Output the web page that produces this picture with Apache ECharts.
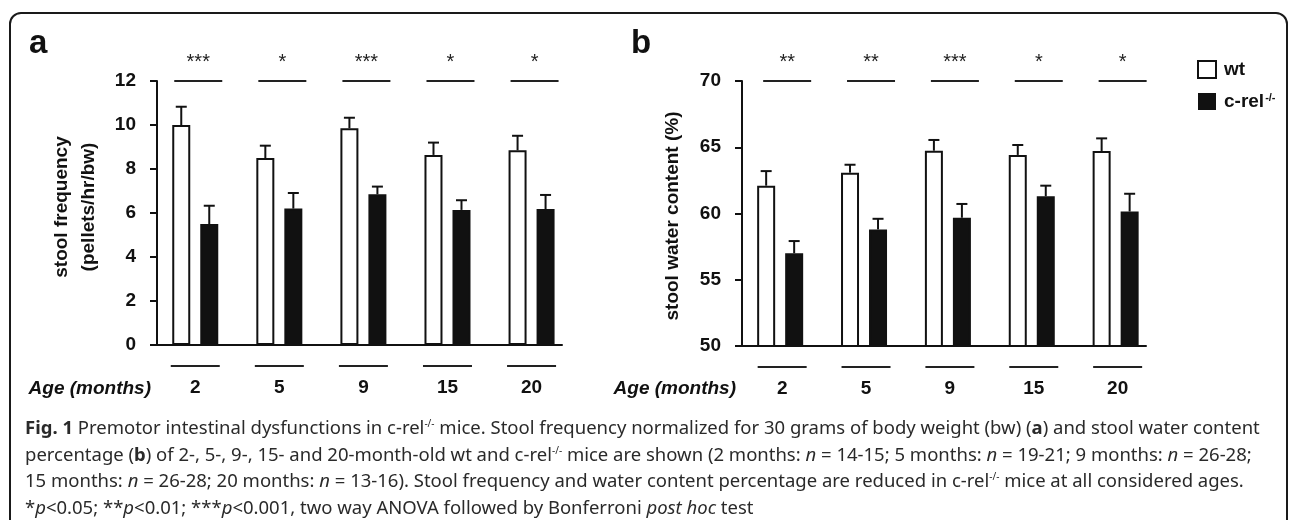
<!DOCTYPE html>
<html><head><meta charset="utf-8">
<script src="https://cdn.jsdelivr.net/npm/echarts@6/dist/echarts.min.js"></script>
<style>html,body{margin:0;padding:0;background:#fff;}#c{width:1290px;height:520px;}</style>
</head><body><div id="c"></div>
<script>
// ---- data ----
const ages = ['2', '5', '9', '15', '20'];
// panel a: stool frequency (pellets/hr/bw)
const freqWt = [10.0, 8.5, 9.85, 8.64, 8.85];
const freqWtUpper = [10.83, 9.06, 10.33, 9.2, 9.51];
const freqKo = [5.5, 6.2, 6.85, 6.14, 6.18];
const freqKoUpper = [6.33, 6.91, 7.2, 6.58, 6.82];
const freqStars = ['***', '*', '***', '*', '*'];
// panel b: stool water content (%)
const waterWt = [62.1, 63.08, 64.74, 64.42, 64.72];
const waterWtUpper = [63.2, 63.68, 65.55, 65.17, 65.67];
const waterKo = [57.0, 58.8, 59.68, 61.3, 60.15];
const waterKoUpper = [57.92, 59.6, 60.72, 62.1, 61.49];
const waterStars = ['**', '**', '***', '*', '*'];
// axis ranges
const freqAxis = {min: 0, max: 12, interval: 2};
const waterAxis = {min: 50, max: 70, interval: 5};
const seriesNames = ['wt', 'c-rel-/-'];
const captionLines = [
  '{b|Fig. 1}{r| Premotor intestinal dysfunctions in c-rel}{s|-/-}{r| mice. Stool frequency normalized for 30 grams of body weight (bw) (}{b|a}{r|) and stool water content}',
  '{r|percentage (}{b|b}{r|) of 2-, 5-, 9-, 15- and 20-month-old wt and c-rel}{s|-/-}{r| mice are shown (2 months: }{i|n}{r| = 14-15; 5 months: }{i|n}{r| = 19-21; 9 months: }{i|n}{r| = 26-28;}',
  '{r|15 months: }{i|n}{r| = 26-28; 20 months: }{i|n}{r| = 13-16). Stool frequency and water content percentage are reduced in c-rel}{s|-/-}{r| mice at all considered ages.}',
  '{r|*}{i|p}{r|<0.05; **}{i|p}{r|<0.01; ***}{i|p}{r|<0.001, two way ANOVA followed by Bonferroni }{i|post hoc}{r| test}'
];

// ---- styles ----
const FF = '"Liberation Sans", Arial, sans-serif';
const CF = '"Noto Sans", "Open Sans", sans-serif';
const CS = 18.5;
const INK = '#111';

const chart = echarts.init(document.getElementById('c'), null, {renderer: 'canvas'});

function yAxisCfg(gi, rng, name, gap, pad) {
  return {
    gridIndex: gi, type: 'value', min: rng.min, max: rng.max, interval: rng.interval,
    axisLine: {show: true, onZero: false, lineStyle: {color: INK, width: 2}},
    axisTick: {show: true, length: 7, lineStyle: {color: INK, width: 2}},
    axisLabel: {margin: 21, fontFamily: FF, fontWeight: 'bold', fontSize: 19, color: INK},
    splitLine: {show: false},
    name: name, nameLocation: 'middle', nameRotate: 90, nameGap: gap,
    nameTextStyle: {fontFamily: FF, fontWeight: 'bold', fontSize: 19, lineHeight: 27, color: INK, padding: pad}
  };
}
function xAxisCfg(gi) {
  return {
    gridIndex: gi, type: 'value', min: -0.455, max: 4.362,
    axisLine: {show: true, onZero: false, lineStyle: {color: INK, width: 2}},
    axisTick: {show: false}, axisLabel: {show: false}, splitLine: {show: false}
  };
}
function barSeries(gi, name, vals, fill) {
  return {
    type: 'bar', name: name, xAxisIndex: gi, yAxisIndex: gi,
    data: vals.map((v, i) => [i, v]),
    barWidth: 18, barGap: '55.6%',
    itemStyle: {color: fill, borderColor: INK, borderWidth: 2},
    emphasis: {disabled: true}, z: 2
  };
}
function errSeries(gi, means, uppers, dx) {
  return {
    type: 'custom', xAxisIndex: gi, yAxisIndex: gi, silent: true, clip: false, z: 3,
    data: means.map((m, i) => [i, m, uppers[i]]),
    encode: {x: 0, y: [1, 2]},
    renderItem(params, api) {
      const p1 = api.coord([api.value(0), api.value(1)]);
      const p2 = api.coord([api.value(0), api.value(2)]);
      const x = p1[0] + dx;
      return {type: 'group', children: [
        {type: 'line', shape: {x1: x, y1: p1[1], x2: x, y2: p2[1]}, style: {stroke: INK, lineWidth: 2}},
        {type: 'line', shape: {x1: x - 5.5, y1: p2[1], x2: x + 5.5, y2: p2[1]}, style: {stroke: INK, lineWidth: 2}}
      ]};
    }
  };
}
function annotSeries(gi, stars, rng, topDx, botDx) {
  return {
    type: 'custom', xAxisIndex: gi, yAxisIndex: gi, silent: true, clip: false, z: 3,
    data: ages.map((a, i) => [i, rng.max]),
    encode: {x: 0, y: 1},
    renderItem(params, api) {
      const i = api.value(0);
      const top = api.coord([i, rng.max]);
      const bot = api.coord([i, rng.min]);
      const cx = top[0];
      const k = params.dataIndex;
      return {type: 'group', children: [
        {type: 'line', shape: {x1: cx + topDx - 24, y1: top[1], x2: cx + topDx + 24, y2: top[1]}, style: {stroke: '#222', lineWidth: 2}},
        {type: 'text', style: {text: stars[k], x: cx + topDx, y: top[1] - 19, align: 'center', verticalAlign: 'middle', font: '20px ' + FF, fill: '#222'}},
        {type: 'line', shape: {x1: cx + botDx - 24.5, y1: bot[1] + 21, x2: cx + botDx + 24.5, y2: bot[1] + 21}, style: {stroke: '#222', lineWidth: 2}},
        {type: 'text', style: {text: ages[k], x: cx + botDx, y: bot[1] + 43, align: 'center', verticalAlign: 'middle', font: 'bold 19px ' + FF, fill: INK}}
      ]};
    }
  };
}

const graphics = [
  {type: 'rect', shape: {x: 10, y: 13, width: 1277, height: 600, r: 11}, style: {fill: 'none', stroke: '#1a1a1a', lineWidth: 2}, silent: true},
  {type: 'text', x: 29, y: 44, style: {text: 'a', font: 'bold 33px ' + FF, fill: INK, verticalAlign: 'middle'}},
  {type: 'text', x: 631, y: 44, style: {text: 'b', font: 'bold 33px ' + FF, fill: INK, verticalAlign: 'middle'}},
  {type: 'text', x: 151, y: 389, style: {text: 'Age (months)', font: 'italic bold 19px ' + FF, fill: INK, align: 'right', verticalAlign: 'middle'}},
  {type: 'text', x: 736, y: 389, style: {text: 'Age (months)', font: 'italic bold 19px ' + FF, fill: INK, align: 'right', verticalAlign: 'middle'}}
];
const capFill = '#2a2a2a';
captionLines.forEach((t, k) => {
  graphics.push({type: 'text', x: 25, y: 429 + k * 26.5, style: {
    text: t, fontFamily: CF, fontSize: CS, fill: capFill, verticalAlign: 'middle',
    rich: {
      r: {fontFamily: CF, fontSize: CS, fill: capFill, color: capFill},
      b: {fontFamily: CF, fontSize: CS, fontWeight: 'bold', fill: capFill, color: capFill},
      i: {fontFamily: CF, fontSize: CS, fontStyle: 'italic', fill: capFill, color: capFill},
      s: {fontFamily: CF, fontSize: 10, fill: capFill, color: capFill, verticalAlign: 'top', padding: [0, 0, 8, 0]}
    }
  }});
});

chart.setOption({
  animation: false,
  backgroundColor: '#fff',
  grid: [
    {left: 157, top: 81, width: 405, height: 264},
    {left: 742, top: 81, width: 404, height: 265}
  ],
  xAxis: [xAxisCfg(0), xAxisCfg(1)],
  yAxis: [
    yAxisCfg(0, freqAxis, 'stool frequency\n(pellets/hr/bw)', 55, [0, 0, 0, 12]),
    yAxisCfg(1, waterAxis, 'stool water content (%)', 56, [0, 5, 0, 0])
  ],
  legend: {
    left: 1197, top: 60, padding: 0, orient: 'vertical', itemWidth: 18, itemHeight: 17, itemGap: 13,
    selectedMode: false,
    data: [
      {name: seriesNames[0], icon: 'rect', itemStyle: {color: '#fff', borderColor: INK, borderWidth: 2}},
      {name: seriesNames[1], icon: 'rect', itemStyle: {color: INK, borderColor: INK, borderWidth: 0}}
    ],
    formatter: n => n === seriesNames[0] ? '{m|wt}' : '{m|c-rel}{s|-/-}',
    textStyle: {
      fontFamily: FF, fontWeight: 'bold', fontSize: 19, color: INK,
      rich: {m: {fontFamily: FF, fontWeight: 'bold', fontSize: 19, color: INK, padding: [0, 0, 0, 3]},
             s: {fontFamily: FF, fontWeight: 'bold', fontSize: 11, color: INK, verticalAlign: 'top', padding: [0, 0, 8, 1]}}
    }
  },
  graphic: graphics,
  series: [
    barSeries(0, seriesNames[0], freqWt, '#fff'),
    barSeries(0, seriesNames[1], freqKo, INK),
    errSeries(0, freqWt, freqWtUpper, -14),
    errSeries(0, freqKo, freqKoUpper, 14),
    annotSeries(0, freqStars, freqAxis, 3, 0),
    barSeries(1, seriesNames[0], waterWt, '#fff'),
    barSeries(1, seriesNames[1], waterKo, INK),
    errSeries(1, waterWt, waterWtUpper, -14),
    errSeries(1, waterKo, waterKoUpper, 14),
    annotSeries(1, waterStars, waterAxis, 7, 2)
  ]
});
</script></body></html>
